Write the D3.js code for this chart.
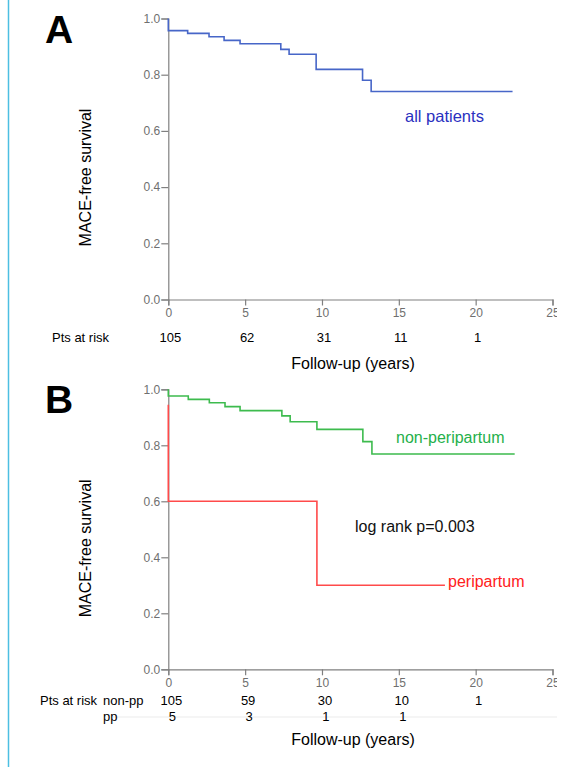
<!DOCTYPE html>
<html lang="en">
<head>
  <meta charset="utf-8">
  <title>MACE-free survival</title>
  <script src="https://d3js.org/d3.v7.min.js"></script>
  <style>
    body { margin: 0; background: #fff; }
    text { font-family: Arial, "Liberation Sans", sans-serif; }
  </style>
</head>
<body>
<script type="text/javascript">
  // survival steps (time in years, survival)
  var allTimes  = [0, 0, 1.26, 2.65, 3.63, 4.67, 7.32, 7.86, 9.62, 12.64, 13.2, 22.4];
  var allSurv   = [1, 0.957, 0.947, 0.935, 0.922, 0.910, 0.890, 0.873, 0.819, 0.780, 0.740, 0.740];
  var nonppTimes = [0, 0, 1.3, 2.67, 3.69, 4.67, 7.39, 7.93, 9.67, 12.66, 13.25, 22.54];
  var nonppSurv  = [1, 0.976, 0.964, 0.952, 0.938, 0.924, 0.905, 0.884, 0.857, 0.813, 0.769, 0.769];
  var ppTimes = [0, 0, 9.67, 18.0];
  var ppSurv  = [0.945, 0.6, 0.3, 0.3];

  var xTicks = [0, 5, 10, 15, 20, 25];
  var yTicks = [0, 0.2, 0.4, 0.6, 0.8, 1.0];
  var riskTimes = [0, 5, 10, 15, 20];
  var riskAll   = [105, 62, 31, 11, 1];
  var riskNonpp = [105, 59, 30, 10, 1];
  var riskPp    = [5, 3, 1, 1, null];

  var w = 564, h = 767;
  var axisColor = "#808080";

  var svg = d3.select("body").append("svg")
    .attr("width", w)
    .attr("height", h);

  // cyan frame line on the left
  svg.append("line")
    .attr("x1", 8.5).attr("x2", 8.5)
    .attr("y1", 0).attr("y2", h)
    .attr("stroke", "#4cbfe2")
    .attr("stroke-width", 1.5);

  var x = d3.scaleLinear().domain([0, 25]).range([168.3, 552.5]);

  function zip(ts, vs) {
    return ts.map(function(t, i) { return [t, vs[i]]; });
  }

  function drawPanel(top, bottom, letter, titleY) {
    var y = d3.scaleLinear().domain([0, 1]).range([bottom, top]);
    var g = svg.append("g");

    var yAxis = g.append("g")
      .attr("transform", "translate(" + x(0) + ",0)")
      .call(d3.axisLeft(y).tickValues(yTicks).tickSize(7).tickPadding(1)
        .tickFormat(d3.format(".1f")));
    var xAxis = g.append("g")
      .attr("transform", "translate(0," + bottom + ")")
      .call(d3.axisBottom(x).tickValues(xTicks).tickSize(6).tickPadding(3));

    [yAxis, xAxis].forEach(function(a) {
      a.select(".domain").attr("stroke", axisColor).attr("stroke-width", 1.2);
      a.selectAll(".tick line").attr("stroke", axisColor).attr("stroke-width", 1.2);
      a.selectAll(".tick text")
        .attr("fill", "#6f6f6f")
        .attr("font-size", "12px")
        .attr("font-family", "Arial, 'Liberation Sans', sans-serif");
    });

    g.append("text")
      .text(letter)
      .attr("x", 45)
      .attr("y", top + 24)
      .attr("font-size", "39px")
      .attr("font-weight", "bold");

    g.append("text")
      .text("MACE-free survival")
      .attr("transform", "translate(91," + (top + 159) + ") rotate(-90)")
      .attr("text-anchor", "middle")
      .attr("font-size", "16px");

    g.append("text")
      .text("Follow-up (years)")
      .attr("x", 353)
      .attr("y", titleY)
      .attr("text-anchor", "middle")
      .attr("font-size", "16px");

    return y;
  }

  function stepLine(y, ts, vs, color) {
    var line = d3.line()
      .x(function(d) { return x(d[0]); })
      .y(function(d) { return y(d[1]); })
      .curve(d3.curveStepAfter);
    svg.append("path")
      .datum(zip(ts, vs))
      .attr("d", line)
      .attr("fill", "none")
      .attr("stroke", color)
      .attr("stroke-width", 1.6);
  }

  function riskRow(values, yPos, dx) {
    svg.append("g").selectAll("text")
      .data(riskTimes)
      .enter()
      .append("text")
      .filter(function(d, i) { return values[i] != null; })
      .text(function(d, i) { return values[i]; })
      .attr("x", function(d) { return x(d) + dx; })
      .attr("y", yPos)
      .attr("text-anchor", "middle")
      .attr("font-size", "13px");
  }

  // Panel A
  var yA = drawPanel(18.5, 299.5, "A", 368.5);
  stepLine(yA, allTimes, allSurv, "#4766c8");
  svg.append("text").text("all patients")
    .attr("x", 405).attr("y", 122)
    .attr("font-size", "16.5px").attr("fill", "#2a30bf");
  svg.append("text").text("Pts at risk")
    .attr("x", 52).attr("y", 341.5).attr("font-size", "13px");
  riskRow(riskAll, 341.5, 2);

  // Panel B
  var yB = drawPanel(389.3, 669.3, "B", 745);
  stepLine(yB, ppTimes, ppSurv, "#ff4a4a");
  stepLine(yB, nonppTimes, nonppSurv, "#3dbb4e");
  svg.append("text").text("non-peripartum")
    .attr("x", 396).attr("y", 443)
    .attr("font-size", "16px").attr("fill", "#25b04a");
  svg.append("text").text("log rank p=0.003")
    .attr("x", 355).attr("y", 532)
    .attr("font-size", "16px").attr("fill", "#111");
  svg.append("text").text("peripartum")
    .attr("x", 448).attr("y", 587)
    .attr("font-size", "16px").attr("fill", "#ff2020");

  svg.append("line")
    .attr("x1", 113).attr("x2", 557)
    .attr("y1", 717).attr("y2", 717)
    .attr("stroke", "#ebebeb");
  svg.append("text").text("Pts at risk")
    .attr("x", 40).attr("y", 705).attr("font-size", "13px");
  svg.append("text").text("non-pp")
    .attr("x", 103).attr("y", 705).attr("font-size", "13px");
  svg.append("text").text("pp")
    .attr("x", 103).attr("y", 720.5).attr("font-size", "13px");
  riskRow(riskNonpp, 705, 3);
  riskRow(riskPp, 720.5, 4);

  // picture is cut on the right, through the "25" labels
  svg.append("rect")
    .attr("x", 557).attr("y", 0)
    .attr("width", w - 557).attr("height", h)
    .attr("fill", "#fff");
</script>
</body>
</html>
